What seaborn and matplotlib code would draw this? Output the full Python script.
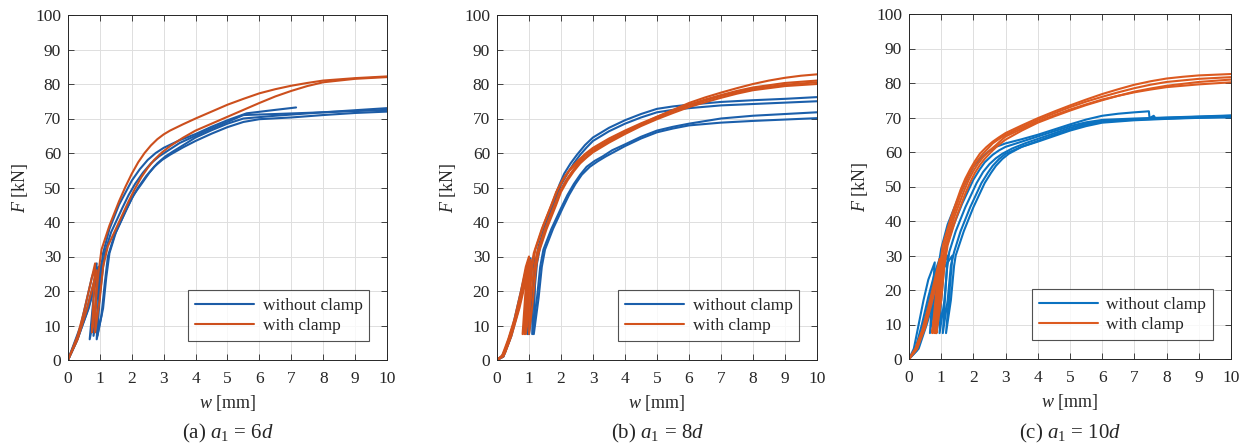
import numpy as np
import pandas as pd
import matplotlib
matplotlib.use("Agg")
import matplotlib.pyplot as plt
from matplotlib.lines import Line2D
import seaborn as sns

sns.set_style("ticks")
plt.rcParams["font.family"] = ["Liberation Serif", "DejaVu Serif"]
plt.rcParams["mathtext.fontset"] = "custom"
plt.rcParams["mathtext.rm"] = "Liberation Serif"
plt.rcParams["mathtext.it"] = "Liberation Serif:italic"

# ---- load-slip curves (w [mm], F [kN]) with one unload/reload loop each ----
# a1 = 6d
A_WITHOUT = [
    [(0, 0), (0.2, 5), (0.4, 10), (0.55, 16), (0.75, 24), (0.9, 28), (0.68, 6),
     (0.85, 14), (1.0, 24), (1.1, 31), (1.3, 38), (1.6, 45), (1.8, 48.5), (2.0, 52),
     (2.25, 55.3), (2.5, 58), (2.75, 60), (3.0, 61.5), (3.5, 63.7), (4.0, 65.5),
     (4.5, 67.6), (5.0, 69.5), (5.6, 71.5), (6.5, 72.5), (7.15, 73.2)],
    [(0, 0), (0.25, 5), (0.45, 10), (0.65, 15), (0.85, 22), (1.0, 27), (0.9, 6),
     (1.05, 13), (1.15, 22), (1.25, 30), (1.45, 36), (1.8, 43), (2.0, 46.8), (2.2, 50),
     (2.45, 53.3), (2.7, 56), (2.95, 58), (3.2, 59.5), (3.6, 61.6), (4.0, 63.5),
     (4.5, 65.6), (5.0, 67.5), (5.5, 69.0), (6.0, 69.8), (7.0, 70.3), (8.0, 71.0),
     (9.0, 71.6), (10.0, 72.0)],
    [(0, 0), (0.3, 6), (0.6, 14), (0.85, 22), (1.05, 28), (0.92, 7),
     (1.1, 15), (1.2, 24), (1.3, 31), (1.5, 37), (1.85, 44), (2.05, 47.8), (2.3, 51),
     (2.55, 54.3), (2.8, 57), (3.05, 59), (3.3, 60.5), (3.6, 62.2), (4.0, 64.5),
     (4.5, 66.6), (5.0, 68.5), (5.5, 70.0), (6.5, 70.8), (8.0, 71.8), (10.0, 73.0)],
    [(0, 0), (0.35, 8), (0.6, 15), (0.8, 22), (0.95, 27), (0.8, 7),
     (0.95, 15), (1.05, 23), (1.15, 31), (1.35, 37), (1.7, 44), (1.9, 47.8), (2.1, 51),
     (2.35, 54.3), (2.6, 57), (2.85, 59), (3.1, 60.5), (3.5, 62.9), (4.0, 65.0),
     (4.5, 67.1), (5.0, 69.0), (5.5, 71.0), (6.5, 71.3), (8.0, 71.8), (10.0, 72.5)],
]
A_WITH = [
    [(0, 0), (0.3, 7), (0.5, 14), (0.7, 22), (0.85, 28), (0.75, 8),
     (0.85, 15), (0.95, 25), (1.05, 32), (1.3, 39), (1.6, 46), (1.8, 50.2), (2.0, 54),
     (2.2, 57.3), (2.4, 60), (2.6, 62.2), (2.8, 64), (3.0, 65.4), (3.2, 66.5),
     (3.6, 68.3), (4.0, 70), (4.5, 72), (5.0, 74), (5.5, 75.7), (6.0, 77.3),
     (6.5, 78.5), (7.0, 79.5), (7.5, 80.3), (8.0, 81), (9.0, 81.7), (10.0, 82.2)],
    [(0, 0), (0.3, 6), (0.6, 15), (0.9, 26), (0.85, 8),
     (1.0, 18), (1.1, 27), (1.25, 33), (1.5, 38), (1.9, 46), (2.1, 49.7), (2.3, 53),
     (2.5, 55.7), (2.7, 58), (2.95, 60.2), (3.2, 62), (3.6, 64.4), (4.0, 66.5),
     (4.5, 68.5), (5.0, 70.5), (5.5, 72.5), (6.0, 74.5), (6.5, 76.4), (7.0, 78),
     (7.5, 79.4), (8.0, 80.5), (9.0, 81.5), (10.0, 82)],
]

# a1 = 8d
B_WITHOUT = [
    [(0, 0), (0.15, 1), (0.3, 4), (0.5, 10), (0.7, 18), (0.9, 26), (1.0, 29), (0.95, 7.5),
     (1.1, 18), (1.2, 28), (1.3, 33), (1.5, 39), (1.8, 47), (1.95, 50.8), (2.1, 54),
     (2.3, 57), (2.5, 59.5), (2.75, 62.3), (3.0, 64.5), (3.5, 67.3), (4.0, 69.5),
     (4.5, 71.3), (5.0, 72.8), (5.5, 73.5), (6.0, 74), (7.0, 74.8), (8.0, 75.3),
     (9.0, 75.7), (10.0, 76.2)],
    [(0, 0), (0.2, 1.5), (0.35, 5), (0.55, 11), (0.75, 19), (0.95, 27), (1.05, 29.5), (1.0, 7.5),
     (1.15, 18), (1.25, 28), (1.35, 33), (1.55, 39), (1.85, 47), (2.0, 50.8), (2.2, 54),
     (2.4, 57), (2.6, 59.5), (2.8, 61.6), (3.0, 63.5), (3.5, 66.3), (4.0, 68.5),
     (4.5, 70.3), (5.0, 71.8), (5.5, 72.5), (6.0, 73), (7.0, 73.8), (8.0, 74.2),
     (9.0, 74.6), (10.0, 75)],
    [(0, 0), (0.2, 1), (0.4, 6), (0.6, 13), (0.8, 21), (1.0, 27), (1.15, 29), (1.1, 7.5),
     (1.25, 18), (1.35, 27), (1.45, 32), (1.7, 38), (2.0, 44), (2.2, 47.8), (2.4, 51),
     (2.6, 53.7), (2.8, 56), (3.05, 57.7), (3.3, 59), (3.6, 60.8), (4.0, 62.5),
     (4.5, 64.7), (5.0, 66.5), (5.5, 67.6), (6.0, 68.5), (7.0, 70), (8.0, 70.8),
     (9.0, 71.3), (10.0, 71.8)],
    [(0, 0), (0.2, 1), (0.45, 7), (0.65, 14), (0.85, 22), (1.05, 28), (1.2, 29.5), (1.15, 7.5),
     (1.3, 18), (1.4, 27), (1.5, 32), (1.75, 38), (2.05, 44), (2.25, 47.8), (2.45, 51),
     (2.65, 53.7), (2.9, 56), (3.15, 57.6), (3.4, 59), (3.7, 60.5), (4.0, 62),
     (4.5, 64.2), (5.0, 66), (5.5, 67.1), (6.0, 68), (7.0, 68.8), (8.0, 69.3),
     (9.0, 69.7), (10.0, 70.1)],
]
B_WITH = [
    [(0, 0), (0.15, 1), (0.35, 6), (0.55, 12), (0.75, 20), (0.9, 27), (1.0, 30), (0.85, 7.5),
     (1.0, 17), (1.1, 27), (1.2, 32), (1.45, 39), (1.75, 46), (1.9, 49.6), (2.1, 53),
     (2.3, 55.5), (2.5, 57.5), (2.75, 59.7), (3.0, 61.5), (3.5, 64.2), (4.0, 66.5),
     (4.5, 68.6), (5.0, 70.5), (5.5, 72.5), (6.0, 74.5), (6.5, 76.1), (7.0, 77.5),
     (7.5, 78.8), (8.0, 80), (8.5, 81), (9.0, 81.8), (9.5, 82.4), (10.0, 82.8)],
    [(0, 0), (0.2, 1.5), (0.4, 7), (0.6, 13), (0.8, 21), (0.95, 28), (0.8, 7.5),
     (0.95, 16), (1.05, 26), (1.15, 31), (1.4, 38), (1.7, 45), (1.85, 48.7), (2.05, 52),
     (2.25, 54.8), (2.5, 57), (2.75, 59.2), (3.0, 61), (3.5, 63.7), (4.0, 66),
     (4.5, 68.3), (5.0, 70.5), (5.5, 72.3), (6.0, 74), (6.5, 75.5), (7.0, 76.8),
     (7.5, 78), (8.0, 79), (9.0, 80.3), (10.0, 81)],
    [(0, 0), (0.2, 1), (0.4, 6), (0.65, 14), (0.85, 22), (1.0, 28.5), (0.9, 7.5),
     (1.05, 17), (1.15, 26), (1.25, 31), (1.5, 38), (1.8, 45), (1.95, 48.7), (2.15, 52),
     (2.35, 54.7), (2.55, 57), (2.8, 58.9), (3.0, 60.5), (3.5, 63.3), (4.0, 65.8),
     (4.5, 68.1), (5.0, 70.2), (5.5, 72.1), (6.0, 73.8), (6.5, 75.2), (7.0, 76.5),
     (7.5, 77.6), (8.0, 78.6), (9.0, 79.8), (10.0, 80.5)],
    [(0, 0), (0.25, 2), (0.45, 7), (0.7, 15), (0.9, 23), (1.05, 29), (1.0, 7.5),
     (1.12, 17), (1.22, 27), (1.3, 31), (1.55, 38), (1.85, 45), (2.0, 48.7), (2.2, 52),
     (2.4, 54.7), (2.6, 57), (2.8, 58.7), (3.0, 60.2), (3.5, 63), (4.0, 65.5),
     (4.5, 67.8), (5.0, 69.8), (5.5, 71.6), (6.0, 73.3), (6.5, 74.7), (7.0, 76),
     (7.5, 77.2), (8.0, 78.2), (9.0, 79.4), (10.0, 80)],
]

# a1 = 10d
C_WITHOUT = [
    [(0, 0), (0.15, 3), (0.3, 10), (0.45, 17), (0.6, 23), (0.8, 28), (0.65, 7.5),
     (0.8, 17), (0.9, 26), (1.0, 32), (1.2, 39), (1.5, 46), (1.7, 50), (1.85, 53),
     (2.0, 55.7), (2.2, 58), (2.45, 60), (2.7, 61.5), (3.0, 62.5), (3.5, 63.7),
     (4.0, 65), (4.5, 66.5), (5.0, 68), (5.5, 69.4), (6.0, 70.5), (6.5, 71.1),
     (7.0, 71.5), (7.45, 71.8), (7.47, 69.8), (7.6, 70.5), (7.65, 69.8), (8.0, 69.9),
     (9.0, 70.2), (10.0, 70.5)],
    [(0, 0), (0.2, 3), (0.4, 10), (0.6, 18), (0.8, 25), (0.95, 29), (0.85, 7.5),
     (1.0, 17), (1.08, 26), (1.15, 32), (1.35, 38), (1.65, 45), (1.85, 49), (2.0, 52),
     (2.2, 55), (2.35, 57), (2.6, 59.2), (2.8, 60.5), (3.0, 61.5), (3.5, 63),
     (4.0, 64.5), (4.5, 66), (5.0, 67.5), (5.5, 68.6), (6.0, 69.3), (7.0, 69.7),
     (8.0, 70), (9.0, 70.3), (10.0, 70.6)],
    [(0, 0), (0.25, 3), (0.45, 10), (0.65, 18), (0.85, 25), (1.05, 29.5), (0.95, 7.5),
     (1.1, 17), (1.18, 26), (1.25, 31), (1.45, 37), (1.75, 44), (1.95, 48), (2.1, 51),
     (2.3, 54.2), (2.5, 56.5), (2.7, 58.2), (2.9, 59.5), (3.2, 61), (3.6, 62.5),
     (4.0, 63.8), (4.5, 65.4), (5.0, 67), (5.5, 68.2), (6.0, 69), (7.0, 69.5),
     (8.0, 69.8), (9.0, 70), (10.0, 70.2)],
    [(0, 0), (0.25, 2.5), (0.5, 10), (0.7, 18), (0.95, 26), (1.2, 30), (1.05, 7.5),
     (1.2, 17), (1.3, 27), (1.4, 31), (1.6, 37), (1.9, 44), (2.1, 48), (2.25, 51),
     (2.45, 54), (2.6, 56), (2.8, 58), (3.0, 59.5), (3.5, 61.5), (4.0, 63.2),
     (4.5, 64.9), (5.0, 66.5), (5.5, 67.8), (6.0, 68.8), (7.0, 69.4), (8.0, 69.7),
     (9.0, 70), (10.0, 70)],
    [(0, 0), (0.3, 3), (0.55, 10), (0.8, 18), (1.05, 26), (1.35, 30), (1.15, 7.5),
     (1.3, 17), (1.4, 27), (1.45, 30), (1.7, 37), (2.0, 44), (2.2, 48), (2.35, 51),
     (2.55, 54), (2.7, 56), (2.9, 58), (3.1, 59.5), (3.5, 61.5), (4.0, 63),
     (4.5, 64.6), (5.0, 66.2), (5.5, 67.5), (6.0, 68.5), (7.0, 69.2), (8.0, 69.6),
     (9.0, 69.9), (10.0, 70.3)],
]
C_WITH = [
    [(0, 0), (0.2, 3), (0.4, 8), (0.6, 15), (0.8, 23), (0.95, 29), (0.72, 7.5),
     (0.85, 16), (0.95, 26), (1.05, 33), (1.3, 41), (1.6, 49), (1.75, 52.3), (1.9, 55),
     (2.05, 57.4), (2.2, 59.5), (2.4, 61.4), (2.6, 63), (2.8, 64.3), (3.0, 65.5),
     (3.5, 67.7), (4.0, 69.8), (4.5, 71.7), (5.0, 73.5), (5.5, 75.2), (6.0, 76.8),
     (6.5, 78.2), (7.0, 79.5), (7.5, 80.5), (8.0, 81.3), (8.5, 81.8), (9.0, 82.2),
     (10.0, 82.6)],
    [(0, 0), (0.2, 3), (0.45, 9), (0.65, 16), (0.85, 24), (1.0, 29), (0.78, 7.5),
     (0.9, 16), (1.0, 26), (1.1, 33), (1.35, 41), (1.65, 49), (1.8, 52.2), (1.95, 55),
     (2.1, 57.2), (2.25, 59), (2.45, 61), (2.6, 62.5), (2.8, 63.8), (3.0, 65),
     (3.5, 67.2), (4.0, 69.3), (4.5, 71.2), (5.0, 73), (5.5, 74.6), (6.0, 76),
     (6.5, 77.3), (7.0, 78.5), (7.5, 79.5), (8.0, 80.3), (9.0, 81.2), (10.0, 81.7)],
    [(0, 0), (0.25, 3), (0.5, 10), (0.7, 17), (0.9, 25), (1.05, 29.5), (0.82, 7.5),
     (0.95, 16), (1.05, 26), (1.15, 33), (1.4, 41), (1.7, 48.5), (1.85, 51.8), (2.0, 54.5),
     (2.15, 56.7), (2.3, 58.5), (2.5, 60.4), (2.7, 62), (2.85, 63.3), (3.0, 64.5),
     (3.5, 66.7), (4.0, 68.8), (4.5, 70.6), (5.0, 72.3), (5.5, 73.8), (6.0, 75.2),
     (6.5, 76.3), (7.0, 77.3), (7.5, 78.1), (8.0, 78.8), (9.0, 79.6), (10.0, 80.2)],
    [(0, 0), (0.25, 3), (0.5, 9), (0.7, 16), (0.9, 24), (1.05, 29), (0.85, 7.5),
     (1.0, 17), (1.1, 27), (1.2, 33), (1.45, 40.5), (1.75, 48), (1.9, 51.2), (2.05, 54),
     (2.2, 56.2), (2.35, 58), (2.55, 60), (2.75, 61.8), (3.0, 63.6), (3.5, 66.2),
     (4.0, 68.5), (4.5, 70.3), (5.0, 72), (5.5, 73.6), (6.0, 75), (6.5, 76.3),
     (7.0, 77.5), (7.5, 78.4), (8.0, 79.2), (9.0, 80.3), (10.0, 81)],
]

PANEL_CAPTIONS = [r"(a) $a_1$ = 6$d$", r"(b) $a_1$ = 8$d$", r"(c) $a_1$ = 10$d$"]
SERIES_LABELS = ["without clamp", "with clamp"]
X_TICKS = list(range(0, 11))
Y_TICKS = list(range(0, 101, 10))

PANELS = [
    (A_WITHOUT, A_WITH, ("#1d5ca6", "#cc4f1d")),
    (B_WITHOUT, B_WITH, ("#1b5fab", "#d2521c")),
    (C_WITHOUT, C_WITH, ("#0b72c0", "#dc5a20")),
]
AX_RECTS = [
    (68 / 1251, 1 - 360 / 446, 319 / 1251, 345 / 446),
    (497 / 1251, 1 - 360 / 446, 320 / 1251, 345 / 446),
    (909 / 1251, 1 - 359 / 446, 322 / 1251, 345 / 446),
]


def to_frame(curves, label):
    rows = []
    for k, pts in enumerate(curves):
        for i, (w, f) in enumerate(pts):
            rows.append({"w": w, "F": f, "series": label, "curve": f"{label}-{k}", "order": i})
    return pd.DataFrame(rows)


fig = plt.figure(figsize=(12.51, 4.46), dpi=100)

for (without, with_, colors), rect, caption in zip(PANELS, AX_RECTS, PANEL_CAPTIONS):
    ax = fig.add_axes(rect)
    for curves, label, color in zip((without, with_), SERIES_LABELS, colors):
        df = to_frame(curves, label)
        sns.lineplot(data=df, x="w", y="F", units="curve", estimator=None, sort=False,
                     color=color, lw=1.5, ax=ax, legend=False)
    ax.set_xlim(0, 10)
    ax.set_ylim(0, 100)
    ax.set_xticks(X_TICKS)
    ax.set_yticks(Y_TICKS)
    ax.grid(True, color="#dedede", lw=0.7)
    ax.set_axisbelow(True)
    ax.tick_params(direction="in", top=True, right=True, length=4, width=0.6,
                   labelsize=12.5, colors="#262626")
    ax.tick_params(axis="x", pad=8)
    ax.tick_params(axis="y", pad=5)
    for s in ax.spines.values():
        s.set_color("#262626")
        s.set_linewidth(0.7)
    ax.set_xlabel(r"$w$ [mm]", fontsize=13, labelpad=4)
    ax.set_ylabel(r"$F$ [kN]", fontsize=13, labelpad=4)
    handles = [Line2D([], [], color=c, lw=1.5) for c in colors]
    leg = ax.legend(handles, SERIES_LABELS, loc="lower right", bbox_to_anchor=(0.945, 0.055),
                    fontsize=12.5, frameon=True, fancybox=False, handlelength=3.4,
                    borderpad=0.4, labelspacing=0.25, handletextpad=0.5, borderaxespad=0)
    leg.get_frame().set_edgecolor("#262626")
    leg.get_frame().set_linewidth(0.8)
    cx = rect[0] + rect[2] / 2
    fig.text(cx, 0.028, caption, ha="center", va="center", fontsize=15)

fig.savefig("out.png", dpi=100)
